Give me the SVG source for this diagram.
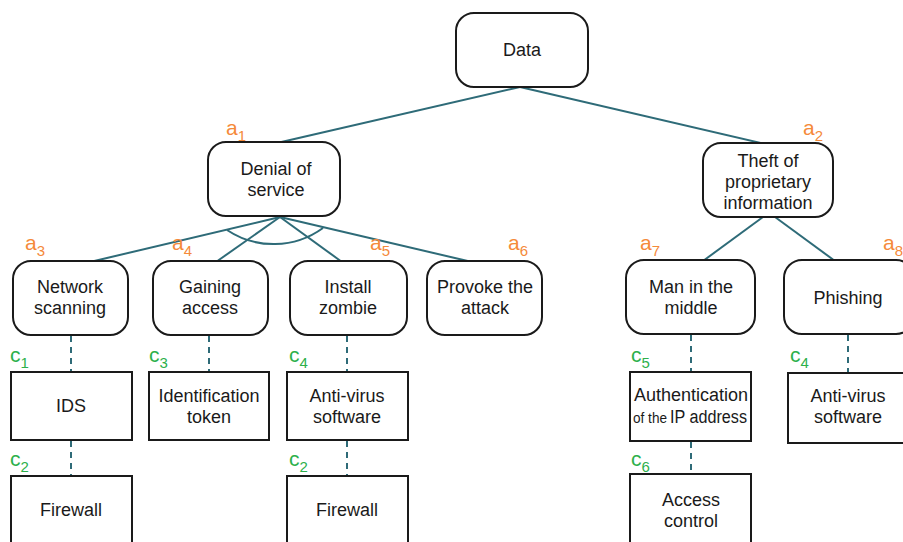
<svg xmlns="http://www.w3.org/2000/svg" width="903" height="542" viewBox="0 0 903 542">
<style>
.box{fill:#fff;stroke:#1a1a1a;stroke-width:2}
.t{font-family:"Liberation Sans",Arial,sans-serif;font-size:18px;fill:#1a1a1a;text-anchor:middle}
.ln{stroke:#2e6b78;stroke-width:2;fill:none}
.dash{stroke:#2e6b78;stroke-width:2;fill:none;stroke-dasharray:6 5}
.a{font-family:"Liberation Sans",Arial,sans-serif;font-size:21px;fill:#f58a3a}
.c{font-family:"Liberation Sans",Arial,sans-serif;font-size:21px;fill:#2db04b}
.s{font-size:15px}
</style>
<rect width="903" height="542" fill="#fff"/>
<g id="connectors">
<line class="ln" x1="520" y1="87" x2="277" y2="143"/>
<line class="ln" x1="520" y1="87" x2="765" y2="144"/>
<line class="ln" x1="280" y1="217" x2="90" y2="262"/>
<line class="ln" x1="280" y1="217" x2="216" y2="262"/>
<line class="ln" x1="280" y1="217" x2="342" y2="262"/>
<line class="ln" x1="280" y1="217" x2="472" y2="262"/>
<path class="ln" d="M227,230 A84,84 0 0 0 323,228"/>
<line class="ln" x1="763" y1="217" x2="703" y2="261"/>
<line class="ln" x1="775" y1="217" x2="835" y2="261"/>
<line class="dash" x1="71" y1="336" x2="71" y2="372"/>
<line class="dash" x1="71" y1="441" x2="71" y2="476"/>
<line class="dash" x1="209" y1="336" x2="209" y2="372"/>
<line class="dash" x1="347" y1="336" x2="347" y2="372"/>
<line class="dash" x1="347" y1="441" x2="347" y2="476"/>
<line class="dash" x1="691" y1="335" x2="691" y2="372"/>
<line class="dash" x1="691" y1="442" x2="691" y2="474"/>
<line class="dash" x1="848" y1="335" x2="848" y2="373"/>
</g>
<g id="data"><rect class="box" x="456" y="13" width="132" height="74" rx="18"/><text class="t" x="522" y="56">Data</text></g>
<g id="a1"><rect class="box" x="208" y="142" width="132" height="74" rx="18"/><text class="t" x="276" y="175">Denial of</text><text class="t" x="276" y="196">service</text>
<text class="a" x="226" y="135">a<tspan class="s" dy="6">1</tspan></text></g>
<g id="a2"><rect class="box" x="703" y="143" width="130" height="74" rx="18"/><text class="t" x="768" y="167">Theft of</text><text class="t" x="768" y="188">proprietary</text><text class="t" x="768" y="209">information</text>
<text class="a" x="803" y="135">a<tspan class="s" dy="6">2</tspan></text></g>
<g id="a3"><rect class="box" x="13" y="261" width="115" height="74" rx="18"/><text class="t" x="70" y="293">Network</text><text class="t" x="70" y="314">scanning</text>
<text class="a" x="25" y="250">a<tspan class="s" dy="6">3</tspan></text></g>
<g id="a4"><rect class="box" x="153" y="261" width="115" height="74" rx="18"/><text class="t" x="210" y="293">Gaining</text><text class="t" x="210" y="314">access</text>
<text class="a" x="172" y="250">a<tspan class="s" dy="6">4</tspan></text></g>
<g id="a5"><rect class="box" x="290" y="261" width="117" height="74" rx="18"/><text class="t" x="348" y="293">Install</text><text class="t" x="348" y="314">zombie</text>
<text class="a" x="370" y="250">a<tspan class="s" dy="6">5</tspan></text></g>
<g id="a6"><rect class="box" x="427" y="261" width="115" height="74" rx="18"/><text class="t" x="485" y="293">Provoke the</text><text class="t" x="485" y="314">attack</text>
<text class="a" x="508" y="250">a<tspan class="s" dy="6">6</tspan></text></g>
<g id="a7"><rect class="box" x="626" y="260" width="129" height="74" rx="18"/><text class="t" x="691" y="293">Man in the</text><text class="t" x="691" y="314">middle</text>
<text class="a" x="640" y="250">a<tspan class="s" dy="6">7</tspan></text></g>
<g id="a8"><rect class="box" x="784" y="260" width="130" height="74" rx="18"/><text class="t" x="848" y="304">Phishing</text>
<text class="a" x="883" y="250">a<tspan class="s" dy="6">8</tspan></text></g>
<g id="ids"><rect class="box" x="11" y="372" width="121" height="68"/><text class="t" x="71" y="412">IDS</text>
<text class="c" x="10" y="362">c<tspan class="s" dy="6">1</tspan></text></g>
<g id="token"><rect class="box" x="149" y="372" width="120" height="68"/><text class="t" x="209" y="402">Identification</text><text class="t" x="209" y="423">token</text>
<text class="c" x="149" y="362">c<tspan class="s" dy="6">3</tspan></text></g>
<g id="antivirus1"><rect class="box" x="287" y="372" width="121" height="68"/><text class="t" x="347" y="402">Anti-virus</text><text class="t" x="347" y="423">software</text>
<text class="c" x="289" y="362">c<tspan class="s" dy="6">4</tspan></text></g>
<g id="firewall1"><rect class="box" x="11" y="476" width="121" height="80"/><text class="t" x="71" y="516">Firewall</text>
<text class="c" x="10" y="466">c<tspan class="s" dy="6">2</tspan></text></g>
<g id="firewall2"><rect class="box" x="287" y="476" width="121" height="80"/><text class="t" x="347" y="516">Firewall</text>
<text class="c" x="289" y="466">c<tspan class="s" dy="6">2</tspan></text></g>
<g id="auth"><rect class="box" x="630" y="372" width="121" height="69"/><text class="t" x="691" y="401">Authentication</text>
<text class="t" x="633" y="423" style="text-anchor:start;font-size:14px" textLength="34" lengthAdjust="spacingAndGlyphs">of the</text>
<text class="t" x="670" y="423" style="text-anchor:start" textLength="77" lengthAdjust="spacingAndGlyphs">IP address</text>
<text class="c" x="631" y="362">c<tspan class="s" dy="6">5</tspan></text></g>
<g id="access"><rect class="box" x="630" y="474" width="121" height="80"/><text class="t" x="691" y="506">Access</text><text class="t" x="691" y="527">control</text>
<text class="c" x="631" y="466">c<tspan class="s" dy="6">6</tspan></text></g>
<g id="antivirus2"><rect class="box" x="788" y="373" width="125" height="70"/><text class="t" x="848" y="402">Anti-virus</text><text class="t" x="848" y="423">software</text>
<text class="c" x="790" y="362">c<tspan class="s" dy="6">4</tspan></text></g>
</svg>
